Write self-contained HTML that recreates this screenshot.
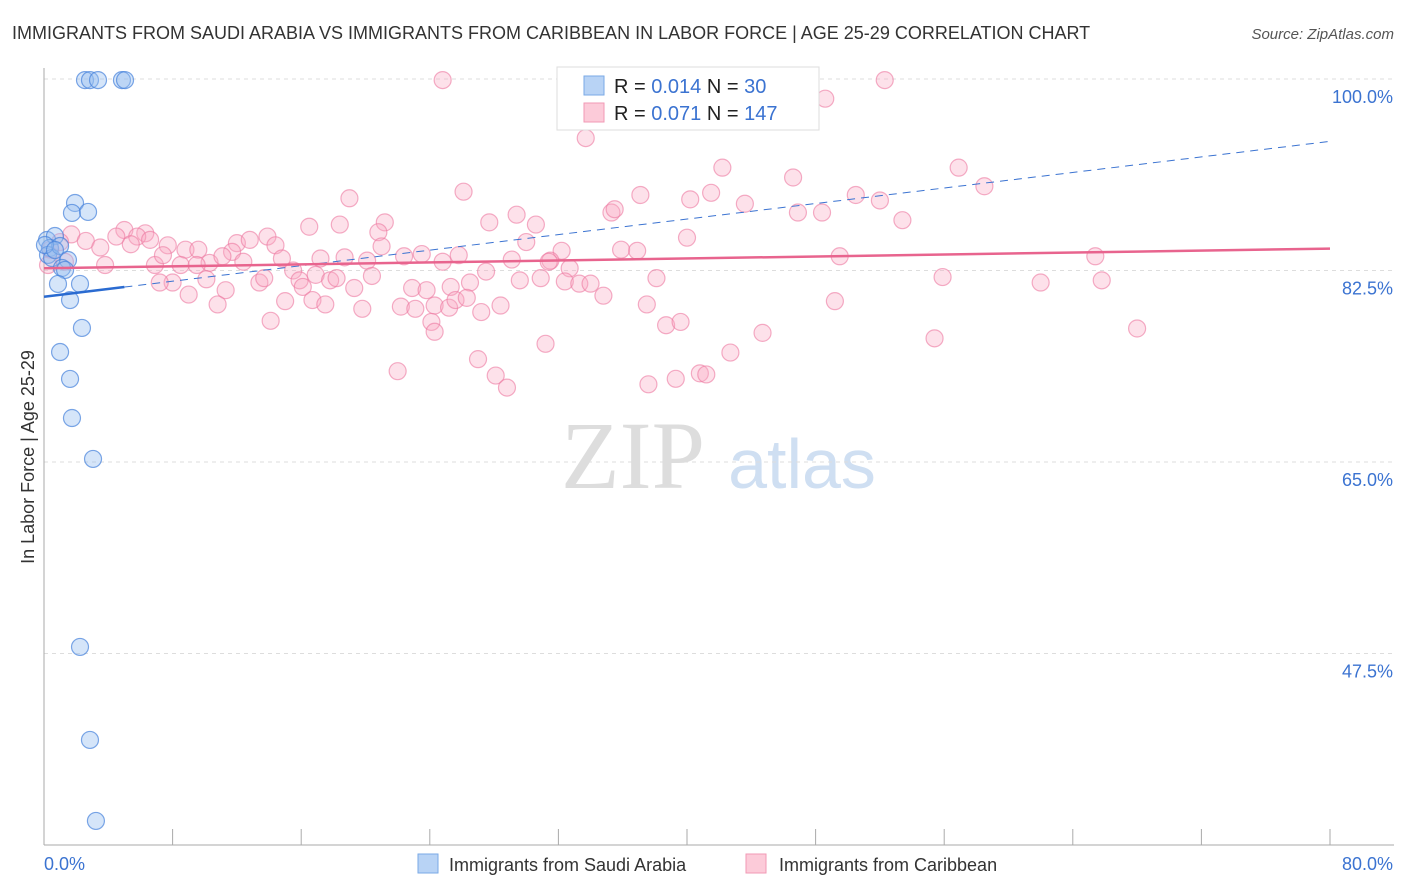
<!DOCTYPE html>
<html><head><meta charset="utf-8"><style>
body{margin:0;background:#fff;font-family:"Liberation Sans",sans-serif;}
svg{display:block}
</style></head><body>
<svg id="c" width="1406" height="892">
<text x="12" y="39" font-size="18" fill="#333">IMMIGRANTS FROM SAUDI ARABIA VS IMMIGRANTS FROM CARIBBEAN IN LABOR FORCE | AGE 25-29 CORRELATION CHART</text>
<text x="1394" y="39" font-size="15" font-style="italic" fill="#555" text-anchor="end">Source: ZipAtlas.com</text>
<g><text x="633" y="488" font-size="96" font-family="Liberation Serif,serif" fill="#ddd" text-anchor="middle">ZIP</text><text x="802" y="488" font-size="70" fill="#cfdff2" text-anchor="middle">atlas</text></g>
<g id="grid"></g><g id="axes"></g><g id="pts"></g><g id="lines"></g>
<g>
<rect x="557" y="67" width="262" height="63" fill="#fff" stroke="#ddd"/>
<rect x="584" y="76" width="20" height="19" fill="#b8d3f5" stroke="#7aaae6"/>
<rect x="584" y="103" width="20" height="19" fill="#fccbd9" stroke="#f29ab5"/>
<text x="614" y="93" font-size="20" fill="#222">R = <tspan fill="#3b73d1">0.014</tspan>   N = <tspan fill="#3b73d1"> 30</tspan></text>
<text x="614" y="120" font-size="20" fill="#222">R = <tspan fill="#3b73d1">0.071</tspan>   N = <tspan fill="#3b73d1">147</tspan></text>
</g>
<g>
<rect x="418" y="854" width="20" height="19" fill="#b8d3f5" stroke="#7aaae6"/>
<text x="449" y="871" font-size="18" fill="#333">Immigrants from Saudi Arabia</text>
<rect x="746" y="854" width="20" height="19" fill="#fccbd9" stroke="#f29ab5"/>
<text x="779" y="871" font-size="18" fill="#333">Immigrants from Caribbean</text>
</g>
<text transform="translate(34,457) rotate(-90)" font-size="18" fill="#333" text-anchor="middle">In Labor Force | Age 25-29</text>
</svg>
<script>
const yTicks=[100,82.5,65,47.5];
const yTickLabels=["100.0%","82.5%","65.0%","47.5%"];
const xTickLabels=["0.0%","80.0%"];
const blueX=[2.55,2.86,3.36,4.85,5.04,1.93,1.74,2.74,0.19,0.68,0.37,0.25,0.5,1.0,1.49,1.12,1.31,2.24,0.87,1.62,2.36,1.0,1.62,1.74,3.05,2.24,2.86,3.23,0.06,0.68];
const blueY=[99.9,99.9,99.9,99.9,99.9,88.67,87.76,87.85,85.29,85.65,84.56,83.92,83.64,84.74,83.46,82.73,82.55,81.27,81.27,79.8,77.25,75.05,72.59,69.02,65.28,48.1,39.6,32.2,84.83,84.37];
const pinkX=[24.8,52.3,48.6,33.7,42.2,56.9,26.1,19.0,37.1,41.5,46.6,58.5,50.5,40.2,52.0,43.6,35.3,35.5,29.4,46.9,48.4,53.4,27.7,21.2,30.6,16.5,18.4,40.0,30.0,20.8,21.0,32.2,35.9,36.9,49.5,65.4,1.7,2.6,3.5,5.0,6.3,5.8,4.5,5.4,6.6,7.7,8.8,9.6,6.9,8.5,12.0,12.8,13.9,14.4,11.7,10.3,12.4,14.8,15.5,17.2,18.7,20.1,22.4,23.5,24.8,25.8,29.1,31.5,32.7,31.4,8.0,9.0,10.1,11.3,10.8,13.4,13.7,15.9,16.1,16.9,17.8,18.2,16.7,17.5,19.3,20.4,22.9,23.8,25.3,26.5,27.5,29.6,30.9,32.4,33.3,34.0,34.8,38.1,55.9,62.0,65.8,15.0,14.1,19.8,22.2,23.1,24.3,25.2,25.6,26.3,27.2,28.4,24.1,24.3,37.5,38.7,39.6,49.2,44.7,55.4,68.0,31.2,27.0,22.0,28.1,28.8,37.6,39.3,40.8,41.2,42.7,9.5,7.4,11.1,3.8,7.2,0.4,1.0,1.3,0.25];
const pinkY=[99.9,99.9,98.2,94.6,91.9,91.9,89.7,89.1,89.4,89.6,91.0,90.2,89.4,89.0,88.9,88.6,87.8,88.1,87.6,87.8,87.8,87.1,86.9,86.9,86.7,86.5,86.7,85.5,85.1,86.0,84.7,84.3,84.4,84.3,83.8,83.8,85.8,85.2,84.6,86.2,85.9,85.6,85.6,84.9,85.3,84.8,84.4,84.4,83.0,83.0,85.0,85.3,85.6,84.8,84.2,83.2,83.3,83.6,82.5,83.6,83.7,83.4,83.8,84.0,83.3,83.9,83.5,83.4,82.7,83.3,81.4,80.3,81.7,80.7,79.4,81.4,81.8,81.6,81.0,82.1,81.6,81.8,79.8,79.4,80.9,82.0,80.9,80.7,81.0,81.4,82.4,81.6,81.8,81.5,81.3,81.3,80.2,81.8,81.9,81.4,81.6,79.7,77.9,79.0,79.2,79.0,79.3,79.1,79.8,80.0,78.7,79.3,77.8,76.9,79.4,77.5,77.8,79.7,76.8,76.3,77.2,75.8,74.4,73.3,72.9,71.8,72.1,72.6,73.1,73.0,75.0,83.0,83.9,83.8,83.0,81.4,84.4,85.1,83.3,83.0];
const blueTrend=[80.1,94.3]; // value at x=0, x=80
const pinkTrend=[82.7,84.5];
const X0=44,X1=1330,Y100=79,PPU=191.5/17.5;
const sx=v=>X0+(X1-X0)*v/80, sy=v=>Y100+(100-v)*PPU;
const NS="http://www.w3.org/2000/svg";
function mk(p,t,a){const e=document.createElementNS(NS,t);for(const k in a)e.setAttribute(k,a[k]);document.getElementById(p).appendChild(e);return e;}
yTicks.forEach((t,i)=>{
  const l=mk('grid','line',{x1:X0,x2:1394,y1:sy(t),y2:sy(t),stroke:'#ddd','stroke-dasharray':'4 4'});
  
  
  const tx=mk('axes','text',{x:1393,y:sy(t)+24,'font-size':18,fill:'#3b73d1','text-anchor':'end'});
  tx.textContent=yTickLabels[i];
  
  
});
let a=mk('axes','line',{x1:X0,x2:X0,y1:68,y2:845,stroke:'#aaa'});


a=mk('axes','line',{x1:X0,x2:1394,y1:845,y2:845,stroke:'#aaa'});


for(let i=0;i<=10;i++){const t=mk('axes','line',{x1:sx(i*8),x2:sx(i*8),y1:829,y2:845,stroke:'#aaa'});

}
let t0=mk('axes','text',{x:44,y:870,'font-size':18,fill:'#3b73d1'});t0.textContent=xTickLabels[0];


let t1=mk('axes','text',{x:1393,y:870,'font-size':18,fill:'#3b73d1','text-anchor':'end'});t1.textContent=xTickLabels[1];


pinkX.forEach((x,i)=>{const c=mk('pts','circle',{cx:sx(x),cy:sy(pinkY[i]),r:8.5,fill:'rgba(248,170,195,0.35)',stroke:'rgba(236,120,160,0.6)','stroke-width':1.2});

});
blueX.forEach((x,i)=>{const c=mk('pts','circle',{cx:sx(x),cy:sy(blueY[i]),r:8.5,fill:'rgba(150,190,240,0.4)',stroke:'rgba(70,130,220,0.7)','stroke-width':1.2});

});
const bAt=x=>blueTrend[0]+(blueTrend[1]-blueTrend[0])*x/80;
let l=mk('lines','line',{x1:sx(5),y1:sy(bAt(5)),x2:sx(80),y2:sy(bAt(80)),stroke:'#3b73d1','stroke-width':1,'stroke-dasharray':'8 6'});


l=mk('lines','line',{x1:sx(0),y1:sy(bAt(0)),x2:sx(5),y2:sy(bAt(5)),stroke:'#2a6bd1','stroke-width':2.5});


l=mk('lines','line',{x1:sx(0),y1:sy(pinkTrend[0]),x2:sx(80),y2:sy(pinkTrend[1]),stroke:'#e8648e','stroke-width':2.5});


</script>
</body></html>
